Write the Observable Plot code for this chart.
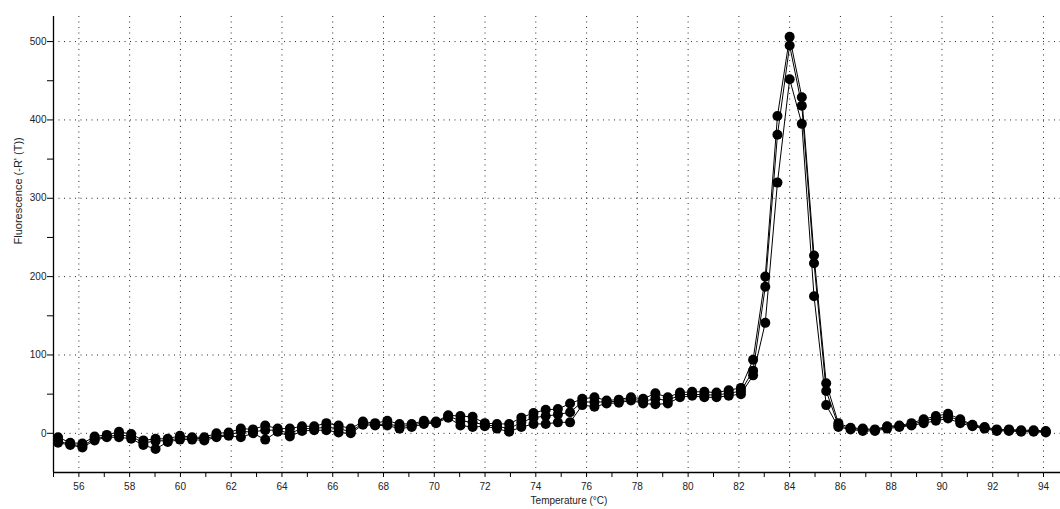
<!DOCTYPE html>
<html>
<head>
<meta charset="utf-8">
<script src="https://cdn.jsdelivr.net/npm/d3@7"></script>
<script src="https://cdn.jsdelivr.net/npm/@observablehq/plot@0.6"></script>
<style>
  html, body { margin: 0; padding: 0; background: #fff; }
  #chart svg { display: block; }
</style>
</head>
<body>
<div id="chart"></div>
<script>
// Temperatures (°C) of the melt-curve readings
const temps = [55.18, 55.66, 56.14, 56.62, 57.10, 57.58, 58.06, 58.54, 59.02, 59.50,
  59.98, 60.46, 60.94, 61.42, 61.90, 62.38, 62.86, 63.34, 63.83, 64.31,
  64.79, 65.27, 65.75, 66.23, 66.71, 67.19, 67.67, 68.15, 68.63, 69.11,
  69.59, 70.07, 70.55, 71.03, 71.51, 71.99, 72.47, 72.95, 73.43, 73.91,
  74.39, 74.87, 75.35, 75.83, 76.31, 76.79, 77.27, 77.75, 78.23, 78.71,
  79.20, 79.68, 80.16, 80.64, 81.12, 81.60, 82.08, 82.56, 83.04, 83.52,
  84.00, 84.48, 84.96, 85.44, 85.92, 86.40, 86.88, 87.36, 87.84, 88.32,
  88.80, 89.28, 89.76, 90.24, 90.72, 91.20, 91.68, 92.16, 92.64, 93.12,
  93.61, 94.09];

// Fluorescence -R'(T) for three replicates
const seriesA = [-5, -12, -13, -4, -2, 2, -1, -9, -7, -7,
  -3, -5, -5, 0, 1, 6, 5, 10, 6, 6,
  9, 9, 13, 10, 6, 15, 13, 16, 12, 12,
  16, 15, 23, 22, 21, 13, 12, 12, 20, 26,
  30, 31, 38, 44, 46, 42, 43, 46, 44, 51,
  46, 52, 53, 53, 52, 55, 58, 94, 200, 405,
  506, 429, 227, 64, 13, 7, 6, 5, 9, 10,
  13, 18, 22, 25, 18, 11, 8, 5, 5, 4,
  4, 3];
const seriesB = [-10, -14, -16, -7, -4, -2, -4, -12, -10, -9,
  -6, -6, -7, -3, -2, 2, 2, 4, 4, 0,
  6, 6, 8, 6, 2, 13, 11, 12, 9, 10,
  14, 14, 22, 16, 14, 11, 9, 6, 14, 20,
  22, 24, 27, 40, 40, 40, 41, 44, 41, 44,
  42, 49, 50, 49, 49, 51, 54, 80, 187, 381,
  495, 418, 217, 54, 10, 6, 5, 4, 8, 9,
  11, 16, 19, 22, 16, 10, 7, 4, 4, 3,
  3, 2];
const seriesC = [-12, -15, -18, -9, -5, -5, -7, -15, -20, -11,
  -8, -8, -9, -5, -3, -5, 0, -8, 2, -4,
  3, 4, 4, 1, 0, 11, 10, 10, 6, 8,
  12, 13, 20, 10, 8, 9, 6, 2, 8, 12,
  12, 14, 14, 36, 34, 38, 39, 42, 38, 37,
  38, 46, 48, 46, 46, 48, 50, 74, 141, 320,
  452, 395, 175, 36, 8, 5, 3, 3, 6, 8,
  10, 13, 16, 19, 13, 9, 6, 3, 3, 2,
  2, 1];

const xMajorTicks = [56, 58, 60, 62, 64, 66, 68, 70, 72, 74, 76, 78, 80, 82, 84, 86, 88, 90, 92, 94];
const xMinorTicks = [55, 56, 57, 58, 59, 60, 61, 62, 63, 64, 65, 66, 67, 68, 69, 70, 71, 72, 73, 74,
  75, 76, 77, 78, 79, 80, 81, 82, 83, 84, 85, 86, 87, 88, 89, 90, 91, 92, 93, 94];
const yMajorTicks = [0, 100, 200, 300, 400, 500];
const yMinorTicks = [0, 50, 100, 150, 200, 250, 300, 350, 400, 450, 500];
const xLabel = "Temperature (°C)";
const yLabel = "Fluorescence (-R' (T))";

const data = temps.flatMap((t, i) => [
  {t, v: seriesA[i], s: "A"},
  {t, v: seriesB[i], s: "B"},
  {t, v: seriesC[i], s: "C"}
]);

const chart = Plot.plot({
  width: 1060,
  height: 509,
  marginLeft: 53,
  marginRight: 0,
  marginTop: 16,
  marginBottom: 37,
  x: {domain: [55, 94.67]},
  y: {domain: [-50, 532]},
  style: {fontFamily: "'Liberation Sans', Arial, sans-serif", fontSize: "10px", color: "#222", background: "#fff"},
  marks: [
    Plot.gridX(xMajorTicks, {stroke: "#000", strokeOpacity: 0.85, strokeDasharray: "1,4.5"}),
    Plot.gridY(yMajorTicks, {stroke: "#000", strokeOpacity: 0.85, strokeDasharray: "1,4.5"}),
    Plot.axisX({ticks: xMinorTicks, tickFormat: d => (d % 2 === 0 ? String(d) : ""), tickSize: 5, tickPadding: 5, label: null, stroke: "#000"}),
    Plot.axisY({ticks: yMinorTicks, tickFormat: d => (d % 100 === 0 ? String(d) : ""), tickSize: 6, tickPadding: 1, label: null, stroke: "#000"}),
    Plot.ruleX([55], {stroke: "#000", strokeWidth: 1.3}),
    Plot.ruleY([-50], {stroke: "#000", strokeWidth: 1.3}),
    Plot.line(data, {x: "t", y: "v", z: "s", stroke: "#000", strokeWidth: 1}),
    Plot.dot(data, {x: "t", y: "v", r: 5, fill: "#000", stroke: "none"}),
    Plot.text([yLabel], {frameAnchor: "left", dx: -35, rotate: -90, fontSize: 11, fill: "#222"}),
    Plot.text([xLabel], {frameAnchor: "bottom", dx: 12, dy: 31, fontSize: 10, fill: "#222"})
  ]
});
document.getElementById("chart").appendChild(chart);
</script>
</body>
</html>
